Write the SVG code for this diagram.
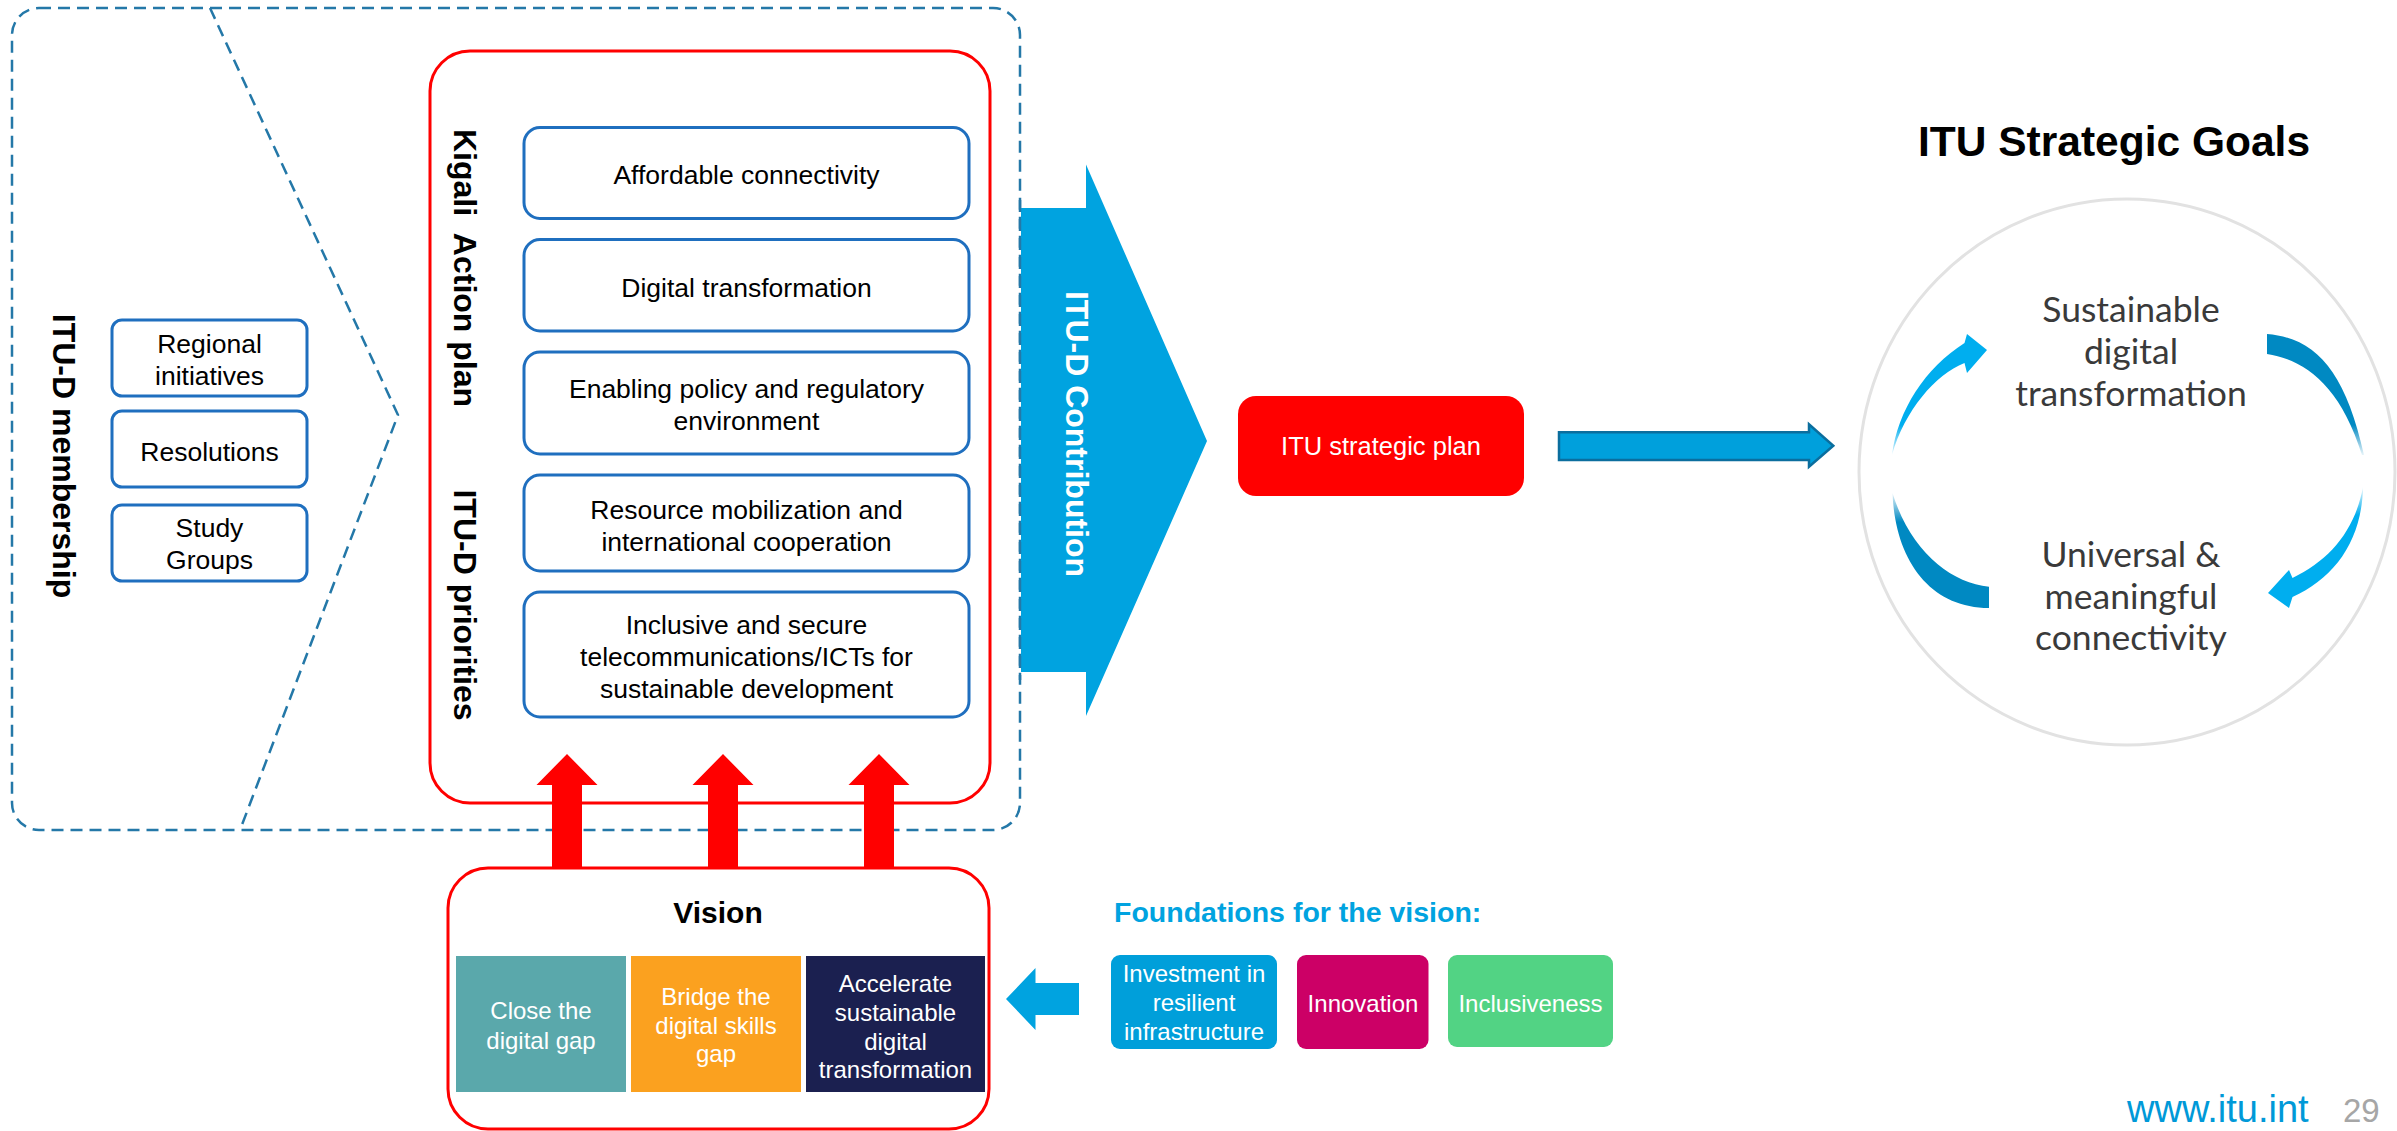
<svg xmlns="http://www.w3.org/2000/svg" width="2397" height="1131" viewBox="0 0 2397 1131">
<style>
text { font-family: "Liberation Sans", Arial, sans-serif; }
.box { fill: #fff; stroke: #1F6FBF; stroke-width: 3; }
.lbl { font-size: 26.5px; fill: #000; text-anchor: middle; }
.vert { font-size: 32px; font-weight: bold; text-anchor: middle; fill: #000; }
.wt { font-size: 24px; fill: #fff; text-anchor: middle; }
.goal { font-family: Lato, "Open Sans", sans-serif; font-size: 35.5px; fill: #3a3a3a; text-anchor: middle; }
.dash { fill: none; stroke: #2478A8; stroke-width: 2.5; stroke-dasharray: 12 7; }
.redbox { fill: #fff; stroke: #FF0000; stroke-width: 3; }
.redarrow { fill: #FF0000; }
.blue { fill: #00A3E0; }
</style>
<defs>
<linearGradient id="gTL" gradientUnits="userSpaceOnUse" x1="0" y1="458" x2="0" y2="425"><stop offset="0" stop-color="#00AEEF" stop-opacity="0"/><stop offset="1" stop-color="#00AEEF"/></linearGradient>
<linearGradient id="gTR" gradientUnits="userSpaceOnUse" x1="0" y1="458" x2="0" y2="425"><stop offset="0" stop-color="#0089C2" stop-opacity="0"/><stop offset="1" stop-color="#0089C2"/></linearGradient>
<linearGradient id="gBL" gradientUnits="userSpaceOnUse" x1="0" y1="490" x2="0" y2="522"><stop offset="0" stop-color="#0089C2" stop-opacity="0"/><stop offset="1" stop-color="#0089C2"/></linearGradient>
<linearGradient id="gBR" gradientUnits="userSpaceOnUse" x1="0" y1="485" x2="0" y2="515"><stop offset="0" stop-color="#00AEEF" stop-opacity="0"/><stop offset="1" stop-color="#00AEEF"/></linearGradient>
</defs>
<rect width="2397" height="1131" fill="#fff"/>

<g id="membership-frame">
<rect class="dash" x="12" y="8" width="1008" height="822" rx="27"/>
<polyline class="dash" points="210,8 398,415 240,830"/>
<text class="vert" transform="translate(64,456) rotate(90)" y="11.5" font-size="31">ITU-D membership</text>
</g>

<g id="regional-initiatives">
<rect class="box" x="112" y="320" width="195" height="76" rx="10"/>
<text class="lbl" x="209.5" y="352.5">Regional</text>
<text class="lbl" x="209.5" y="384.5">initiatives</text>
</g>
<g id="resolutions">
<rect class="box" x="112" y="411" width="195" height="76" rx="10"/>
<text class="lbl" x="209.5" y="460.5">Resolutions</text>
</g>
<g id="study-groups">
<rect class="box" x="112" y="505" width="195" height="76" rx="10"/>
<text class="lbl" x="209.5" y="537">Study</text>
<text class="lbl" x="209.5" y="569">Groups</text>
</g>

<g id="kigali-action-plan">
<rect class="redbox" x="430" y="51" width="560" height="752" rx="40"/>
<text class="vert" transform="translate(465,268) rotate(90)" y="11.5"><tspan>Kigali</tspan><tspan dx="9"> Action plan</tspan></text>
<text class="vert" transform="translate(465,605) rotate(90)" y="11.5">ITU-D priorities</text>
</g>

<g id="affordable-connectivity">
<rect class="box" x="524" y="127.5" width="445" height="91" rx="16"/>
<text class="lbl" x="746.5" y="183.5">Affordable connectivity</text>
</g>
<g id="digital-transformation">
<rect class="box" x="524" y="239.5" width="445" height="91.5" rx="16"/>
<text class="lbl" x="746.5" y="297">Digital transformation</text>
</g>
<g id="enabling-policy">
<rect class="box" x="524" y="352" width="445" height="102" rx="16"/>
<text class="lbl" x="746.5" y="397.5">Enabling policy and regulatory</text>
<text class="lbl" x="746.5" y="430">environment</text>
</g>
<g id="resource-mobilization">
<rect class="box" x="524" y="475" width="445" height="96" rx="16"/>
<text class="lbl" x="746.5" y="518.5">Resource mobilization and</text>
<text class="lbl" x="746.5" y="550.5">international cooperation</text>
</g>
<g id="inclusive-secure">
<rect class="box" x="524" y="592" width="445" height="125" rx="16"/>
<text class="lbl" x="746.5" y="633.5">Inclusive and secure</text>
<text class="lbl" x="746.5" y="665.5">telecommunications/ICTs for</text>
<text class="lbl" x="746.5" y="697.5">sustainable development</text>
</g>

<g id="itu-d-contribution">
<polygon class="blue" points="1021,208 1086,208 1086,164.5 1207,441 1086,716 1086,672 1021,672"/>
<text class="vert" transform="translate(1077.5,434) rotate(90)" y="11.5" fill="#fff" style="fill:#fff">ITU-D Contribution</text>
</g>
<line x1="1020" y1="200" x2="1020" y2="680" class="dash"/>

<g id="itu-strategic-plan">
<rect x="1238" y="396" width="286" height="100" rx="18" fill="#FF0000"/>
<text x="1381" y="455" font-size="25.5" fill="#fff" text-anchor="middle">ITU strategic plan</text>
</g>

<g id="vision">
<rect class="redbox" x="448" y="868" width="541" height="261" rx="40"/>
<text x="718" y="923" font-size="30" font-weight="bold" text-anchor="middle" fill="#000">Vision</text>
<rect x="456" y="956" width="170" height="136" fill="#5AA8AB"/>
<text class="wt" x="541" y="1019">Close the</text>
<text class="wt" x="541" y="1049">digital gap</text>
<rect x="631" y="956" width="170" height="136" fill="#FBA11F"/>
<text class="wt" x="716" y="1005">Bridge the</text>
<text class="wt" x="716" y="1034">digital skills</text>
<text class="wt" x="716" y="1062">gap</text>
<rect x="806" y="956" width="179" height="136" fill="#1B2050"/>
<text class="wt" x="895.5" y="991.5">Accelerate</text>
<text class="wt" x="895.5" y="1020.5">sustainable</text>
<text class="wt" x="895.5" y="1049.5">digital</text>
<text class="wt" x="895.5" y="1078">transformation</text>
</g>

<g id="foundations">
<text x="1114" y="922" font-size="28.5" font-weight="bold" fill="#00A3E0">Foundations for the vision:</text>
</g>
<g id="investment">
<rect x="1111" y="955" width="166" height="94" rx="9" fill="#009FDA"/>
<text class="wt" x="1194" y="981.5">Investment in</text>
<text class="wt" x="1194" y="1010.5">resilient</text>
<text class="wt" x="1194" y="1039.5">infrastructure</text>
</g>
<g id="innovation">
<rect x="1297" y="955" width="131.5" height="94" rx="9" fill="#CC0066"/>
<text class="wt" x="1363" y="1011.5">Innovation</text>
</g>
<g id="inclusiveness">
<rect x="1448" y="955" width="165" height="92" rx="9" fill="#52D384"/>
<text class="wt" x="1530.5" y="1011.5">Inclusiveness</text>
</g>

<g id="connectors">
<polygon class="redarrow" points="552,868 552,785 536.5,785 567,754 597.5,785 582,785 582,868"/>
<polygon class="redarrow" points="708,868 708,785 692.5,785 723,754 753.5,785 738,785 738,868"/>
<polygon class="redarrow" points="864,868 864,785 848.5,785 879,754 909.5,785 894,785 894,868"/>
<polygon class="blue" points="1006,999 1035.5,968 1035.5,983 1079,983 1079,1015 1035.5,1015 1035.5,1030"/>
<polygon points="1559,432.3 1809,432.3 1809,424.3 1833.3,445.7 1809,466.7 1809,460 1559,460" fill="#00A0DC" stroke="#0B6E9E" stroke-width="2.5" stroke-linejoin="miter"/>
</g>

<g id="itu-strategic-goals">
<text x="2114" y="156" font-size="42.5" font-weight="bold" text-anchor="middle" fill="#000">ITU Strategic Goals</text>
<ellipse cx="2127" cy="472" rx="268" ry="273" fill="#fff" stroke="#E2E2E2" stroke-width="3"/>
<path fill="url(#gTL)" d="M1892,455 C1898,410 1925,368 1964.5,343 L1967,334 L1987,350 L1967,373 L1964.5,363 C1935,375 1905,410 1892,455 Z"/>
<path fill="url(#gTR)" d="M2267,334 C2315,338 2345,370 2364,455 L2362,455 C2340,385 2305,360 2267,354 Z"/>
<path fill="url(#gBL)" d="M1892.5,493 C1895,560 1930,608 1989,608 L1989,586.7 C1950,583 1910,550 1892.5,493 Z"/>
<path fill="url(#gBR)" d="M2363,487 C2362,540 2335,578 2292.5,597 L2289,608 L2268,593 L2289,570 L2292.5,578 C2330,560 2355,530 2363,487 Z"/>
<text class="goal" x="2131" y="322">Sustainable</text>
<text class="goal" x="2131" y="364">digital</text>
<text class="goal" x="2131" y="406">transformation</text>
<text class="goal" x="2131" y="567">Universal &amp;</text>
<text class="goal" x="2131" y="609">meaningful</text>
<text class="goal" x="2131" y="650">connectivity</text>
</g>

<g id="footer">
<text x="2127" y="1122" font-size="38" fill="#0099D8">www.itu.int</text>
<text x="2343" y="1122" font-size="33" fill="#A6A6A6">29</text>
</g>
</svg>
